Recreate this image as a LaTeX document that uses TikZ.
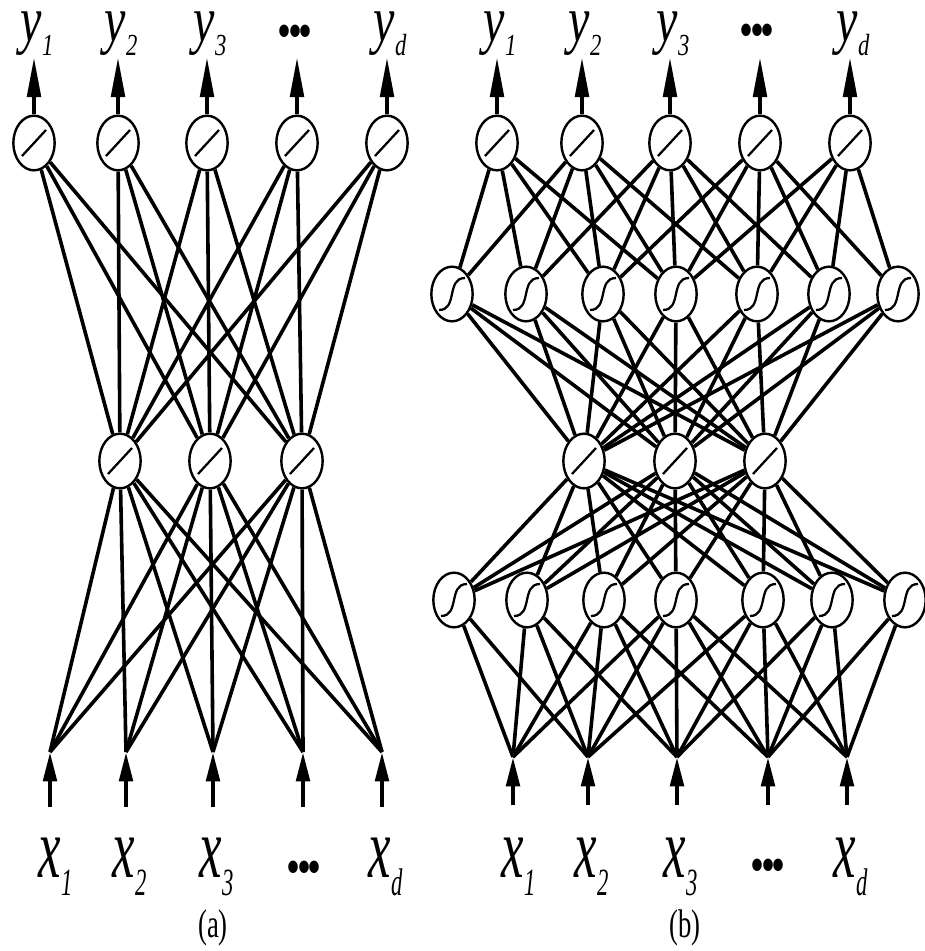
\documentclass[tikz,border=0pt]{standalone}
\usepackage{graphicx}
\usepackage{fontspec}
\setmainfont{Liberation Serif}
\usetikzlibrary{shapes.geometric,arrows.meta}
% #1 letter, #2 subscript, #3 font size, #4 vertical stretch
\newcommand\nnlab[4]{\scalebox{1}[#4]{\fontsize{#3}{#3}\selectfont\itshape #1\kern0.5pt\raisebox{-8pt}{\fontsize{17}{17}\selectfont #2}}}
\newcommand\nndots{\scalebox{1}[1.3]{\fontsize{30}{30}\selectfont\textbullet\kern-2.5pt\textbullet\kern-2.5pt\textbullet}}
\begin{document}
\begin{tikzpicture}[x=0.75pt,y=-0.75pt,
  neuron/.style={ellipse, draw, line width=1.8pt, minimum width=31pt, minimum height=41pt, inner sep=0pt, fill=white},
  link/.style={line width=2.7pt},
  outarr/.style={line width=3.2pt, -{Triangle[length=30pt,width=10pt]}},
  inarr/.style={line width=3.2pt, -{Triangle[length=22pt,width=10pt]}},
  sym/.style={line width=1.7pt},
  ylab/.style={inner sep=0pt, anchor=base west},
  dlab/.style={inner sep=0pt}]
\path[use as bounding box] (0,0) rectangle (925,951);

% ---------------- panel (a) ----------------
\foreach \x [count=\i] in {34,118,207,297,387} {
  \node[neuron] (at\i) at (\x,143) {};
  \coordinate (ay\i) at (\x,57);
}
\foreach \x [count=\i] in {120,210,302} {
  \node[neuron] (am\i) at (\x,461) {};
}
\foreach \x [count=\i] in {50,126,213,303,382} {
  \coordinate (ai\i) at (\x,752);
  \coordinate (ax\i) at (\x,807);
}
\foreach \i in {1,...,5} {
  \foreach \j in {1,2,3} {
    \draw[link] (at\i) -- (am\j);
    \draw[link] (am\j) -- (ai\i);
  }
  \draw[outarr] (at\i) -- (ay\i);
  \draw[inarr] (ax\i) -- (ai\i);
}
\foreach \n in {at1,at2,at3,at4,at5,am1,am2,am3} {
  \draw[sym] ([shift={(-12,13)}]\n.center) -- ([shift={(12,-13)}]\n.center);
}

% ---------------- panel (b) ----------------
\foreach \x [count=\i] in {497,582,670,760,850} {
  \node[neuron] (bt\i) at (\x,143) {};
  \coordinate (by\i) at (\x,57);
}
\foreach \x [count=\i] in {452,526,603,676,757,829,898} {
  \node[neuron] (bh\i) at (\x,294) {};
}
\foreach \x [count=\i] in {584,675,765} {
  \node[neuron] (bm\i) at (\x,461) {};
}
\foreach \x [count=\i] in {454,527,604,676,763,832,905} {
  \node[neuron] (bg\i) at (\x,600) {};
}
\foreach \x [count=\i] in {513,588,677,768,847} {
  \coordinate (bi\i) at (\x,757);
  \coordinate (bx\i) at (\x,805);
}
% output layer to upper hidden layer (local connections)
\foreach \a/\b in {1/1,1/2,1/3,1/4,
                   2/1,2/2,2/3,2/4,2/5,
                   3/2,3/3,3/4,3/5,3/6,
                   4/3,4/4,4/5,4/6,4/7,
                   5/4,5/5,5/6,5/7} {
  \draw[link] (bt\a) -- (bh\b);
}
% hidden layers to bottleneck (full)
\foreach \h in {1,...,7} {
  \foreach \m in {1,2,3} {
    \draw[link] (bh\h) -- (bm\m);
    \draw[link] (bm\m) -- (bg\h);
  }
}
% lower hidden layer to inputs (local connections)
\foreach \g/\k in {1/1,1/2,
                   2/1,2/2,2/3,
                   3/1,3/2,3/3,3/4,
                   4/1,4/2,4/3,4/4,4/5,
                   5/2,5/3,5/4,5/5,
                   6/3,6/4,6/5,
                   7/4,7/5} {
  \draw[link] (bg\g) -- (bi\k);
}
\foreach \i in {1,...,5} {
  \draw[outarr] (bt\i) -- (by\i);
  \draw[inarr] (bx\i) -- (bi\i);
}
\foreach \n in {bt1,bt2,bt3,bt4,bt5,bm1,bm2,bm3} {
  \draw[sym] ([shift={(-12,13)}]\n.center) -- ([shift={(12,-13)}]\n.center);
}
\foreach \n in {bh1,bh2,bh3,bh4,bh5,bh6,bh7,bg1,bg2,bg3,bg4,bg5,bg6,bg7} {
  \draw[sym] ([shift={(-13,16)}]\n.center) .. controls ([shift={(6,16)}]\n.center) and ([shift={(-6,-16)}]\n.center) .. ([shift={(13,-16)}]\n.center);
}

% ---------------- labels ----------------
\node[ylab] (ya1) at (20,41) {\nnlab{y}{1}{36}{1.35}};
\node[ylab] (ya2) at (104,41) {\nnlab{y}{2}{36}{1.35}};
\node[ylab] (ya3) at (193,41) {\nnlab{y}{3}{36}{1.35}};
\node[dlab] (yad) at (295,37) {\nndots};
\node[ylab] (ya5) at (373,41) {\nnlab{y}{d}{36}{1.35}};
\node[ylab] (xa1) at (38,877) {\nnlab{x}{1}{38}{1.7}};
\node[ylab] (xa2) at (112,877) {\nnlab{x}{2}{38}{1.7}};
\node[ylab] (xa3) at (199,877) {\nnlab{x}{3}{38}{1.7}};
\node[dlab] (xad) at (304,873) {\nndots};
\node[ylab] (xa5) at (368,877) {\nnlab{x}{d}{38}{1.7}};

\node[ylab] (yb1) at (483,41) {\nnlab{y}{1}{36}{1.35}};
\node[ylab] (yb2) at (568,41) {\nnlab{y}{2}{36}{1.35}};
\node[ylab] (yb3) at (656,41) {\nnlab{y}{3}{36}{1.35}};
\node[dlab] (ybd) at (757,36) {\nndots};
\node[ylab] (yb5) at (836,41) {\nnlab{y}{d}{36}{1.35}};
\node[ylab] (xb1) at (501,877) {\nnlab{x}{1}{38}{1.7}};
\node[ylab] (xb2) at (574,877) {\nnlab{x}{2}{38}{1.7}};
\node[ylab] (xb3) at (663,877) {\nnlab{x}{3}{38}{1.7}};
\node[dlab] (xbd) at (768,871) {\nndots};
\node[ylab] (xb5) at (833,877) {\nnlab{x}{d}{38}{1.7}};

\node[dlab] (capa) at (213,928) {\scalebox{1}[1.5]{\fontsize{20}{20}\selectfont (a)}};
\node[dlab] (capb) at (685,928) {\scalebox{1}[1.5]{\fontsize{20}{20}\selectfont (b)}};
\end{tikzpicture}
\end{document}
